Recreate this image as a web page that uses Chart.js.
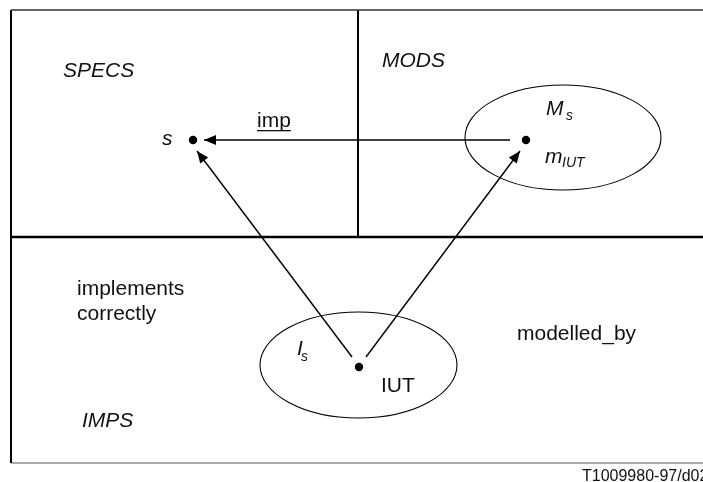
<!DOCTYPE html>
<html>
<head>
<meta charset="utf-8">
<script src="https://cdn.jsdelivr.net/npm/chart.js@4/dist/chart.umd.min.js"></script>
<style>
body { margin: 0; background: #fff; }
canvas { display: block; }
</style>
</head>
<body>
<canvas id="canvas" width="703" height="482"></canvas>
<script>
// diagram coordinates are in page pixels, y grows downward
var dots = [{x: 193, y: 140}, {x: 526, y: 140}, {x: 359, y: 367}];

// frame / region borders
var frameLines = [
    [{x: 11, y: 10}, {x: 703, y: 10}],
    [{x: 11, y: 10}, {x: 11, y: 463}],
    [{x: 11, y: 463}, {x: 703, y: 463}],
    [{x: 11, y: 237}, {x: 703, y: 237}],
    [{x: 358, y: 10}, {x: 358, y: 237}]
];
var frameWidths = [1.5, 2, 1.2, 2.5, 2];
var frameColors = ['#333', '#000', '#555', '#000', '#000'];

// arrows: start, tip
var arrows = [
    [{x: 510, y: 140}, {x: 204, y: 140}],
    [{x: 352, y: 357}, {x: 197, y: 151}],
    [{x: 366, y: 357}, {x: 520, y: 151}]
];

// ellipses: centre and radii
var ellipseX = [563, 358.5];
var ellipseY = [137.5, 365];
var ellipseRX = [98, 98.5];
var ellipseRY = [52.5, 53];

// labels
var labelText = ['SPECS', 'MODS', 'IMPS', 's', 'imp', 'M', 's', 'm', 'IUT',
    'implements', 'correctly', 'I', 's', 'IUT', 'modelled_by', 'T1009980-97/d02'];
var labelX = [63, 382, 82, 162, 257, 546, 566, 545, 562, 77, 77, 297, 301, 381, 517, 582];
var labelY = [77, 67, 427, 145, 127, 115, 120, 163, 167, 295, 320, 355, 361, 392, 340, 481];
var labelSize = [21, 21, 21, 21, 21, 21, 14, 21, 14, 21, 21, 21, 14, 21, 21, 16];
var labelItalic = [1, 1, 1, 1, 0, 1, 1, 1, 1, 0, 0, 1, 1, 0, 0, 0];
var underlined = ['imp'];

var datasets = [];
frameLines.forEach(function (seg, i) {
    datasets.push({
        data: seg, showLine: true, pointRadius: 0,
        borderColor: frameColors[i], borderWidth: frameWidths[i]
    });
});
arrows.forEach(function (seg) {
    datasets.push({
        data: seg, showLine: true, pointRadius: 0,
        borderColor: '#000', borderWidth: 1.4
    });
});
datasets.push({
    data: dots, showLine: false, pointRadius: 4.2,
    pointBackgroundColor: '#000', pointBorderWidth: 0
});

var diagramPlugin = {
    id: 'diagram',
    afterDatasetsDraw: function (chart) {
        var c = chart.ctx;
        var xs = chart.scales.x, ys = chart.scales.y;
        c.save();
        // ellipses
        c.strokeStyle = '#000';
        c.lineWidth = 1.1;
        for (var i = 0; i < ellipseX.length; i++) {
            var cx = xs.getPixelForValue(ellipseX[i]);
            var cy = ys.getPixelForValue(ellipseY[i]);
            var rx = Math.abs(xs.getPixelForValue(ellipseX[i] + ellipseRX[i]) - cx);
            var ry = Math.abs(ys.getPixelForValue(ellipseY[i] + ellipseRY[i]) - cy);
            c.beginPath();
            c.ellipse(cx, cy, rx, ry, 0, 0, Math.PI * 2);
            c.stroke();
        }
        // arrow heads
        c.fillStyle = '#000';
        arrows.forEach(function (seg) {
            var x0 = xs.getPixelForValue(seg[0].x), y0 = ys.getPixelForValue(seg[0].y);
            var x1 = xs.getPixelForValue(seg[1].x), y1 = ys.getPixelForValue(seg[1].y);
            var a = Math.atan2(y1 - y0, x1 - x0);
            var len = 12, w = 5;
            c.beginPath();
            c.moveTo(x1, y1);
            c.lineTo(x1 - len * Math.cos(a) + w * Math.sin(a), y1 - len * Math.sin(a) - w * Math.cos(a));
            c.lineTo(x1 - len * Math.cos(a) - w * Math.sin(a), y1 - len * Math.sin(a) + w * Math.cos(a));
            c.closePath();
            c.fill();
        });
        // text
        c.fillStyle = '#111';
        c.textBaseline = 'alphabetic';
        for (var j = 0; j < labelText.length; j++) {
            var px = xs.getPixelForValue(labelX[j]);
            var py = ys.getPixelForValue(labelY[j]);
            c.font = (labelItalic[j] ? 'italic ' : '') + labelSize[j] + 'px "Liberation Sans", Arial, sans-serif';
            c.fillText(labelText[j], px, py);
            if (underlined.indexOf(labelText[j]) >= 0) {
                var tw = c.measureText(labelText[j]).width;
                c.fillRect(px, py + 3, tw, 1.3);
            }
        }
        c.restore();
    }
};

var ctx = document.getElementById('canvas').getContext('2d');
var myChart = new Chart(ctx, {
    type: 'scatter',
    data: {datasets: datasets},
    options: {
        responsive: false,
        animation: false,
        layout: {padding: 0, autoPadding: false},
        scales: {
            x: {type: 'linear', min: 0, max: 703, display: false},
            y: {type: 'linear', min: 0, max: 482, reverse: true, display: false}
        },
        plugins: {
            legend: {display: false},
            tooltip: {enabled: false}
        }
    },
    plugins: [diagramPlugin]
});
</script>
</body>
</html>
